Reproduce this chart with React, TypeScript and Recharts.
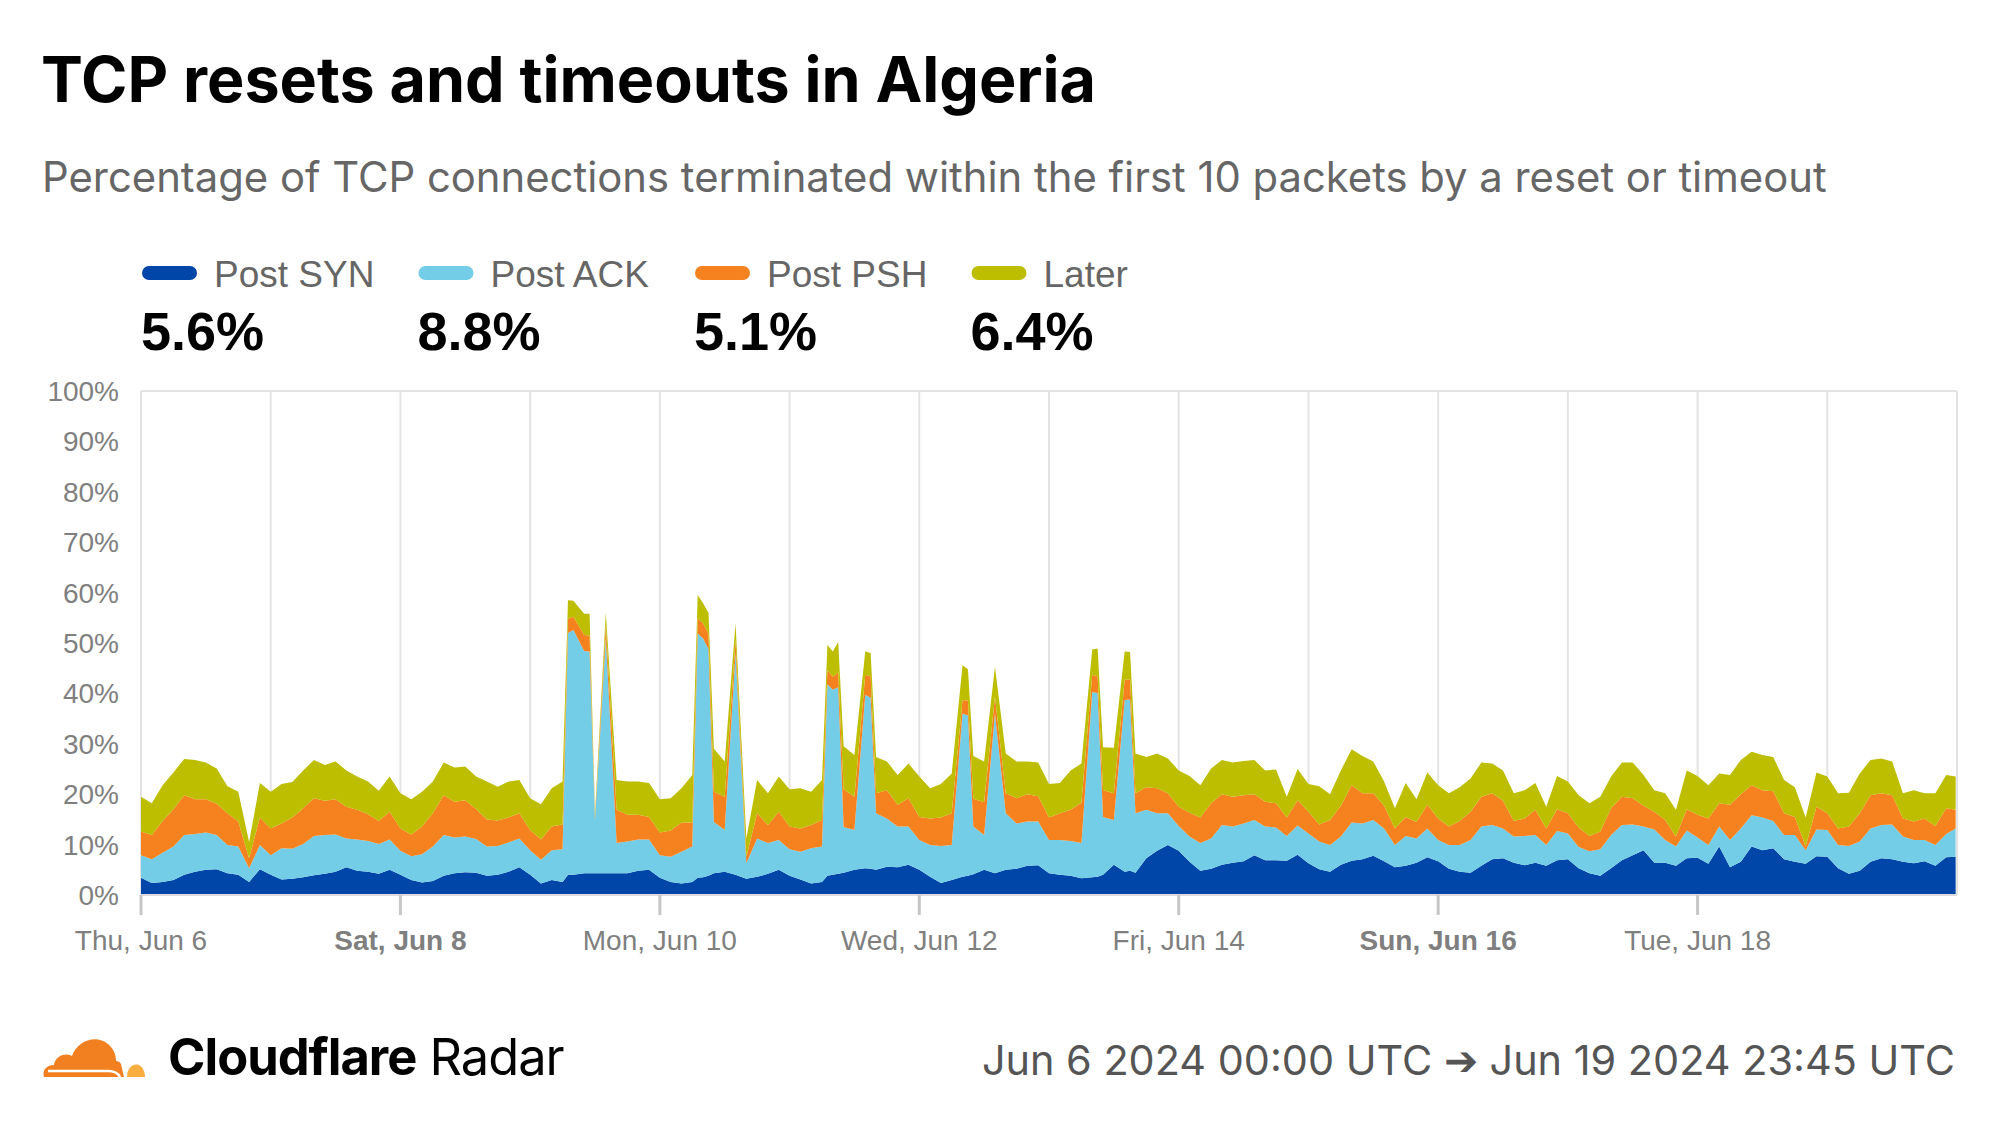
import React from "react";
import {
    AreaChart,
    Area,
    XAxis,
    YAxis,
    CartesianGrid,
    ReferenceLine,
} from "recharts";

// values sampled every 2 hours from Jun 6 00:00 UTC, last point at Jun 19 23:45
const postSyn = [
    3.4, 2.4, 2.6, 3.0, 4.0, 4.6, 5.0, 5.1, 4.3, 4.0, 2.6, 5.1, 4.0, 3.1, 3.2, 3.5, 3.9, 4.2, 4.6, 5.5, 4.8, 4.6, 4.2, 5.0,
    4.0, 3.0, 2.5, 2.8, 3.8, 4.3, 4.5, 4.4, 3.8, 4.0, 4.6, 5.5, 4.0, 2.3, 3.0, 2.6, 4.0, 4.3, 4.3, 4.3, 4.3, 4.3, 4.8, 5.0,
    3.4, 2.6, 2.3, 2.6, 3.5, 4.3, 4.6, 4.0, 3.2, 3.6, 4.2, 5.0, 3.8, 3.1, 2.3, 2.6, 4.0, 4.4, 5.0, 5.3, 5.0, 5.6, 5.5, 6.0,
    5.0, 3.6, 2.4, 3.0, 3.6, 4.1, 5.0, 4.3, 5.0, 5.2, 5.8, 5.9, 4.3, 4.0, 3.8, 3.3, 3.5, 4.0, 6.0, 4.6, 4.4, 7.3, 8.8, 9.9,
    8.8, 6.6, 4.8, 5.2, 6.0, 6.4, 6.7, 7.9, 6.9, 6.9, 6.8, 8.0, 6.3, 5.1, 4.6, 6.0, 6.8, 7.1, 7.8, 6.7, 5.5, 5.8, 6.4, 7.5,
    6.7, 5.2, 4.6, 4.4, 5.8, 7.1, 7.3, 6.4, 5.9, 6.4, 5.8, 6.9, 7.1, 5.3, 4.3, 3.8, 5.3, 6.9, 7.9, 8.9, 6.4, 6.4, 5.8, 7.3,
    7.4, 6.2, 9.6, 5.5, 6.6, 9.6, 8.9, 9.3, 7.1, 6.6, 6.2, 7.7, 7.6, 5.3, 4.2, 4.8, 6.6, 7.3, 7.1, 6.6, 6.3, 6.7, 5.8, 7.5,
    7.6,
];

const postAck = [
    4.5, 4.7, 5.8, 6.6, 7.9, 7.5, 7.4, 6.8, 5.6, 5.6, 2.7, 4.8, 3.9, 6.2, 6.0, 6.6, 7.8, 7.7, 7.4, 5.7, 6.2, 6.1, 5.9, 6.0,
    4.8, 4.7, 5.6, 6.8, 8.1, 7.1, 7.1, 6.7, 5.8, 5.7, 5.8, 5.7, 4.9, 4.7, 5.9, 6.5, 48.6, 44.1, 10.6, 46.7, 6.0, 6.3, 6.2, 6.0,
    4.5, 5.0, 6.3, 7.0, 47.4, 10.2, 8.3, 43.9, 3.1, 7.6, 6.1, 5.9, 5.3, 5.5, 7.0, 7.0, 36.7, 9.1, 7.9, 34.4, 11.2, 9.6, 8.1, 7.6,
    5.9, 6.3, 7.3, 6.9, 32.4, 9.5, 6.9, 31.7, 11.2, 9.0, 8.8, 8.7, 6.6, 6.9, 6.9, 7.0, 36.8, 11.5, 8.9, 34.1, 11.8, 9.6, 7.4, 6.3,
    4.9, 5.0, 5.5, 6.0, 7.9, 7.2, 7.5, 7.0, 6.7, 6.5, 4.9, 5.8, 5.9, 5.5, 5.3, 5.6, 7.6, 7.1, 7.1, 6.5, 4.4, 5.9, 4.8, 5.7,
    4.2, 4.7, 5.3, 6.5, 7.8, 6.8, 5.9, 5.2, 5.8, 5.5, 4.1, 5.8, 5.1, 4.2, 4.4, 5.3, 6.6, 7.0, 6.1, 4.7, 6.6, 4.5, 3.8, 5.5,
    4.0, 3.7, 4.0, 5.4, 6.6, 6.2, 6.5, 5.4, 4.8, 5.3, 2.7, 5.3, 5.3, 4.6, 5.5, 5.8, 6.6, 6.6, 6.9, 5.0, 4.6, 4.2, 4.1, 4.6,
    5.6,
];

const postPsh = [
    4.7, 4.8, 6.3, 7.4, 7.9, 6.9, 6.6, 6.2, 6.3, 5.0, 2.0, 5.5, 5.3, 4.9, 6.2, 7.1, 7.5, 6.8, 7.0, 6.3, 5.9, 5.3, 4.6, 5.5,
    4.4, 4.3, 5.5, 6.6, 7.9, 7.1, 7.2, 5.9, 5.4, 5.1, 5.0, 5.0, 4.0, 4.0, 4.7, 4.9, 2.6, 3.2, 0.5, 2.5, 6.6, 5.3, 4.9, 4.5,
    4.5, 5.2, 5.8, 4.8, 3.0, 6.0, 6.6, 2.7, 1.3, 5.0, 3.6, 5.6, 4.5, 4.6, 4.6, 5.3, 2.6, 7.5, 6.6, 4.0, 4.0, 5.6, 4.3, 5.6,
    4.6, 5.3, 5.7, 6.3, 2.7, 5.5, 6.5, 3.4, 4.0, 5.0, 5.4, 5.0, 4.5, 5.3, 6.2, 8.0, 3.4, 5.3, 5.3, 4.0, 4.0, 4.5, 5.0, 4.0,
    3.8, 4.7, 5.1, 7.0, 6.1, 5.9, 5.6, 5.1, 4.9, 4.8, 3.7, 5.0, 4.3, 3.4, 5.0, 6.1, 7.4, 6.0, 5.3, 4.5, 3.3, 3.8, 3.3, 4.7,
    4.3, 3.7, 4.8, 5.6, 5.9, 6.3, 5.5, 3.1, 3.5, 5.0, 3.3, 4.3, 4.0, 3.9, 3.0, 3.5, 5.3, 5.6, 5.2, 4.1, 3.5, 4.0, 2.0, 4.2,
    4.5, 5.3, 4.6, 7.0, 6.8, 6.0, 5.4, 5.9, 4.3, 3.6, 0.7, 4.5, 3.3, 3.3, 3.9, 5.6, 6.6, 6.3, 5.8, 3.6, 3.7, 4.3, 3.8, 5.1,
    3.7,
];

const later = [
    6.9, 6.3, 7.1, 7.3, 7.2, 7.8, 7.3, 7.0, 5.4, 5.9, 3.2, 6.8, 7.3, 7.8, 7.0, 7.5, 7.6, 7.1, 7.5, 7.2, 6.6, 6.5, 6.0, 7.0,
    7.0, 7.0, 6.9, 6.3, 6.5, 6.8, 6.7, 6.5, 7.5, 6.7, 7.1, 6.6, 6.3, 7.0, 7.6, 8.5, 3.2, 4.2, 0.8, 2.5, 5.9, 6.6, 6.6, 6.7,
    6.6, 6.4, 6.8, 9.4, 4.0, 8.5, 7.0, 3.3, 3.6, 6.6, 6.3, 7.0, 7.4, 8.0, 6.6, 7.9, 5.0, 8.5, 8.3, 4.6, 7.2, 5.7, 5.9, 6.9,
    8.0, 6.0, 6.6, 7.9, 6.9, 8.5, 8.1, 5.9, 7.9, 7.3, 6.5, 6.7, 6.6, 6.0, 7.8, 7.8, 5.0, 8.5, 9.0, 5.6, 7.9, 6.0, 6.9, 6.9,
    7.2, 7.3, 6.4, 6.9, 6.8, 6.8, 6.8, 6.8, 6.2, 6.7, 4.1, 6.2, 5.5, 7.6, 5.1, 7.0, 7.1, 7.4, 6.3, 4.8, 4.0, 6.7, 4.5, 6.4,
    6.6, 6.6, 6.7, 6.6, 6.8, 5.9, 6.0, 5.5, 5.6, 5.3, 4.3, 6.6, 6.3, 6.4, 6.5, 6.9, 6.3, 6.8, 7.1, 6.1, 4.3, 5.3, 5.3, 7.7,
    7.7, 6.6, 5.9, 5.9, 6.8, 6.6, 7.0, 6.8, 6.6, 5.9, 5.8, 6.8, 7.3, 7.0, 6.7, 7.9, 7.0, 6.9, 6.7, 5.0, 6.2, 5.0, 6.5, 6.6,
    6.6,
];

// extra hourly readings on the flat tops of the reset spikes
const spikeHours = [79, 83, 103, 105, 127, 129, 135, 153, 177, 183];
const spikeSyn = [4.0, 4.3, 3.4, 3.8, 3.8, 4.2, 5.2, 3.8, 3.6, 4.8];
const spikeAck = [48.0, 44.0, 48.5, 45.0, 38.0, 37.0, 34.0, 31.8, 36.5, 34.0];
const spikePsh = [2.8, 3.2, 3.0, 3.0, 2.8, 3.0, 4.2, 3.0, 3.3, 4.0];
const spikeLater = [3.7, 4.3, 4.6, 4.2, 5.0, 6.0, 4.6, 6.2, 5.5, 5.4];

const seriesNames = ["Post SYN", "Post ACK", "Post PSH", "Later"];
const seriesKeys = ["syn", "ack", "psh", "later"];
const seriesColors = ["#0046a8", "#74cde6", "#f6821f", "#bdbe00"];
const summaryValues = ["5.6%", "8.8%", "5.1%", "6.4%"];

const dayTicks = [0, 24, 48, 72, 96, 120, 144, 168, 192, 216, 240, 264, 288, 312, 336];
const labelHours = [0, 48, 96, 144, 192, 240, 288];
const labelTexts = ["Thu, Jun 6", "Sat, Jun 8", "Mon, Jun 10", "Wed, Jun 12", "Fri, Jun 14", "Sun, Jun 16", "Tue, Jun 18"];
const weekendLabels = ["Sat, Jun 8", "Sun, Jun 16"];
const yTicks = [0, 10, 20, 30, 40, 50, 60, 70, 80, 90, 100];

const data = postSyn
    .map((v, i) => ({
        hour: i < 168 ? i * 2 : 335.75,
        syn: v,
        ack: postAck[i],
        psh: postPsh[i],
        later: later[i],
    }))
    .concat(
        spikeHours.map((h, i) => ({
            hour: h,
            syn: spikeSyn[i],
            ack: spikeAck[i],
            psh: spikePsh[i],
            later: spikeLater[i],
        }))
    )
    .sort((a, b) => a.hour - b.hour);

const axisFont = "'Liberation Sans', Arial, sans-serif";
const headFont = "Inter, 'Noto Sans', sans-serif";

function DayTick(props: any) {
    const { x, y, payload } = props;
    const idx = labelHours.indexOf(payload.value);
    if (idx < 0) return <g />;
    const text = labelTexts[idx];
    return (
        <g>
            <line x1={x} x2={x} y1={y} y2={y + 20} stroke="#c6c6c6" strokeWidth={3} />
            <text
                x={x}
                y={y + 55}
                textAnchor="middle"
                fontFamily={axisFont}
                fontSize={28}
                fontWeight={weekendLabels.includes(text) ? 700 : 400}
                fill="#7f7f7f"
            >
                {text}
            </text>
        </g>
    );
}

function Logo() {
    return (
        <svg x={42} y={1030} width={104} height={48} viewBox="0 0 104 48">
            <path
                d="M2 47 C0 41 4 35 12 35 C13 27 22 22 30 26 C35 11 54 4 66 14 C72 19 74 25 74 31 C76 31 78 32 79 34 L82 47 Z"
                fill="#f38020"
            />
            <path d="M85 47 C85 39 90 33 97 35 C101 37 103 42 103 47 Z" fill="#faae40" />
            <path d="M6 41 L66 41 C72 41 76 43 78 47" stroke="#ffffff" strokeWidth={2.5} fill="none" />
        </svg>
    );
}

export default function App() {
    return (
        <div style={{ position: "absolute", left: 0, top: 0, width: 1999, height: 1125, background: "#fff" }}>
            <svg width={1999} height={1125} style={{ position: "absolute", left: 0, top: 0 }}>
                <text x={41} y={102} fontFamily={headFont} fontWeight={700} fontSize={62.8} fill="#000">
                    TCP resets and timeouts in Algeria
                </text>
                <text x={42} y={192} fontFamily={headFont} fontSize={41.8} fill="#666">
                    Percentage of TCP connections terminated within the first 10 packets by a reset or timeout
                </text>
                {seriesNames.map((name, i) => {
                    const left = 142 + i * 276.5;
                    return (
                        <g key={name}>
                            <rect x={left} y={266} width={55} height={14} rx={7} fill={seriesColors[i]} />
                            <text x={left + 72} y={287} fontFamily={axisFont} fontSize={37} fill="#666">
                                {name}
                            </text>
                            <text x={left - 1} y={350} fontFamily={axisFont} fontWeight={700} fontSize={54} fill="#000">
                                {summaryValues[i]}
                            </text>
                        </g>
                    );
                })}
                <Logo />
                <text x={168} y={1075} fontFamily={headFont} fontSize={50.6} fill="#000" letterSpacing={-1}>
                    <tspan fontWeight={700}>Cloudflare</tspan>
                    <tspan> Radar</tspan>
                </text>
                <text x={1955} y={1075} textAnchor="end" fontFamily={headFont} fontSize={41.4} fill="#555">
                    Jun 6 2024 00:00 UTC ➔ Jun 19 2024 23:45 UTC
                </text>
            </svg>
            <div style={{ position: "absolute", left: 0, top: 370 }}>
                <AreaChart width={1999} height={620} data={data} margin={{ top: 21, right: 42, left: 0, bottom: 0 }}>
                    <CartesianGrid horizontal={false} stroke="#e3e3e3" strokeWidth={2} />
                    <ReferenceLine y={100} stroke="#e3e3e3" strokeWidth={2} />
                    <XAxis
                        dataKey="hour"
                        type="number"
                        domain={[0, 336]}
                        ticks={dayTicks}
                        interval={0}
                        height={95}
                        tickSize={0}
                        tickMargin={0}
                        tickLine={false}
                        axisLine={{ stroke: "#dcdcdc", strokeWidth: 2 }}
                        tick={<DayTick />}
                    />
                    <YAxis
                        type="number"
                        domain={[0, 100]}
                        ticks={yTicks}
                        width={141}
                        tickSize={0}
                        tickMargin={22}
                        axisLine={false}
                        tickLine={false}
                        tickFormatter={(v: number) => `${v}%`}
                        tick={{ fontFamily: axisFont, fontSize: 28, fill: "#7f7f7f" }}
                    />
                    {seriesKeys.map((key, i) => (
                        <Area
                            key={key}
                            dataKey={key}
                            stackId="tcp"
                            type="linear"
                            stroke="none"
                            fill={seriesColors[i]}
                            fillOpacity={1}
                            isAnimationActive={false}
                            dot={false}
                            activeDot={false}
                        />
                    ))}
                </AreaChart>
            </div>
        </div>
    );
}
